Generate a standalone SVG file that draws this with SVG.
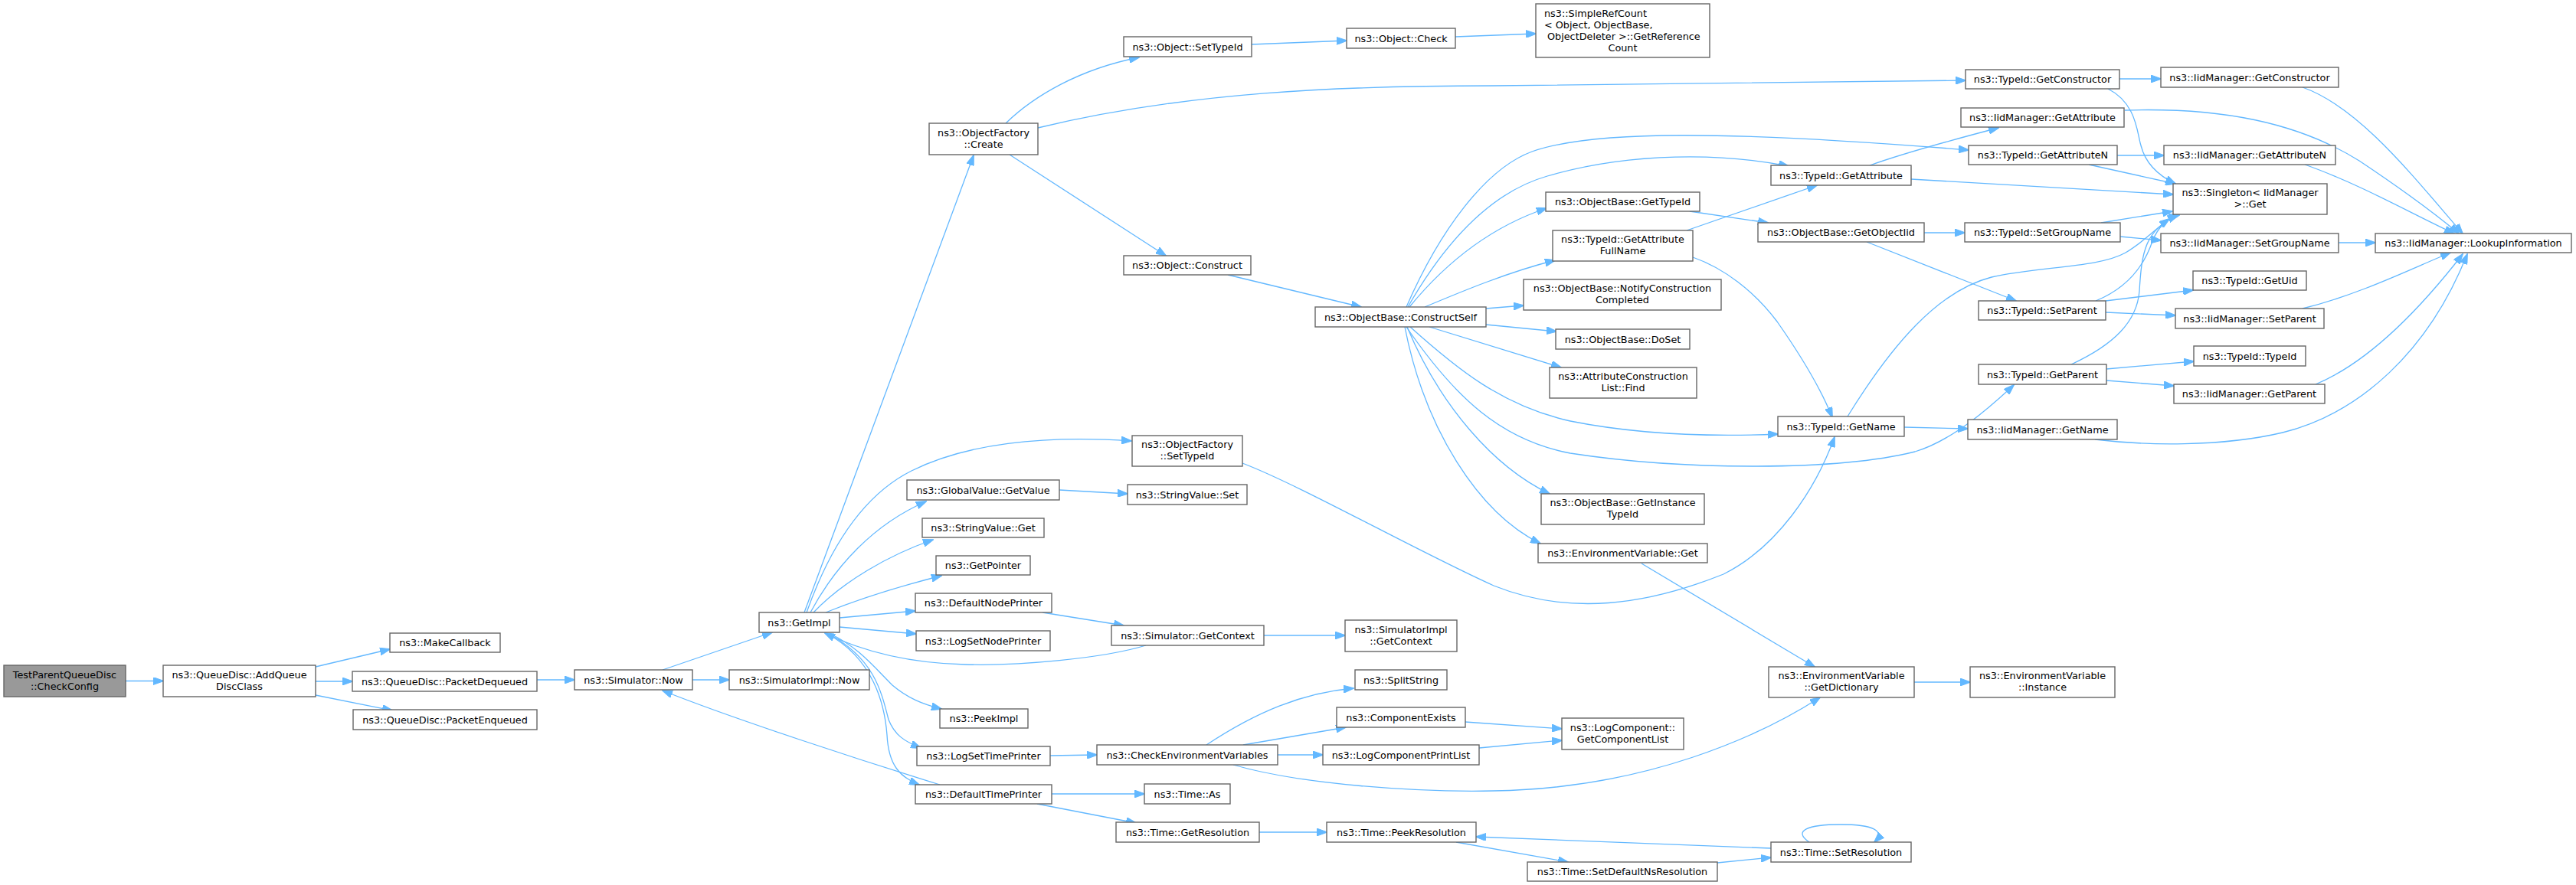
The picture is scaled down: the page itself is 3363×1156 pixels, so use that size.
<svg xmlns="http://www.w3.org/2000/svg" width="3363" height="1156" viewBox="0 0 3363 1156">
<style>
.n rect{fill:#ffffff;stroke:#666666;stroke-width:1.4}
.root rect{fill:#999999}
text{font-family:"DejaVu Sans","Liberation Sans",sans-serif;font-size:12.8px;fill:#000000;text-anchor:middle}
text.l{text-anchor:start}
.e path{fill:none;stroke:#63b8ff;stroke-width:1.3;marker-end:url(#a)}
</style>
<defs>
<marker id="a" markerUnits="userSpaceOnUse" markerWidth="14" markerHeight="10" refX="13" refY="5" orient="auto" viewBox="0 0 14 10">
<path d="M0,0 L14,5 L0,10 z" fill="#63b8ff" stroke="#63b8ff" stroke-width="1"/>
</marker>
</defs>
<rect x="0" y="0" width="3363" height="1156" fill="#ffffff"/>
<g id="edges" class="e">
<path d="M164,889.5 L213,889.5"/>
<path d="M412,871 L509,848"/>
<path d="M412,890 L460,890"/>
<path d="M412,908 L512,928"/>
<path d="M701,888 L750,888"/>
<path d="M904,888 L952,888"/>
<path d="M865,875 L1008,826"/>
<path d="M1227,1025 C1130,995 960,940 865,902"/>
<path d="M1050,800 L1271,203"/>
<path d="M1053,800 C1085,710 1130,645 1190,615 C1260,580 1360,568 1477,576"/>
<path d="M1058,800 C1090,740 1140,685 1209,655"/>
<path d="M1062,800 C1100,760 1160,725 1218,705"/>
<path d="M1078,800 C1120,783 1170,767 1229,752"/>
<path d="M1096,807 L1195,798"/>
<path d="M1096,819 L1196,828"/>
<path d="M1496,843 C1440,860 1330,870 1260,868 C1180,866 1120,848 1077,827"/>
<path d="M1084,828 C1120,845 1140,870 1165,895 C1185,912 1205,920 1229,926"/>
<path d="M1082,828 C1140,860 1150,900 1160,940 C1168,960 1180,968 1202,977"/>
<path d="M1080,828 C1140,860 1155,920 1158,960 C1160,1000 1175,1015 1200,1025"/>
<path d="M1313,161 C1350,125 1410,90 1487,75"/>
<path d="M1318,202 L1522,334"/>
<path d="M1355,167 C1550,120 1750,112 1950,112 C2200,111 2400,108 2566,105"/>
<path d="M1634,58 L1758,53"/>
<path d="M1900,48 L2005,44"/>
<path d="M1603,359 L1777,401"/>
<path d="M1836,401 C1880,300 1940,220 2000,198 C2080,170 2250,170 2570,196"/>
<path d="M1838,401 C1890,310 1950,250 2020,230 C2130,198 2250,200 2335,217"/>
<path d="M1840,401 C1890,340 1950,295 2019,272"/>
<path d="M1860,401 C1910,380 1970,355 2030,340"/>
<path d="M1940,403 L1989,399"/>
<path d="M1940,424 L2032,433"/>
<path d="M1866,427 L2038,480"/>
<path d="M1841,427 C1900,480 1960,530 2050,550 C2150,570 2250,570 2321,567"/>
<path d="M1836,427 C1900,520 1960,575 2050,592 C2200,615 2400,615 2500,590 C2550,575 2600,530 2629,503"/>
<path d="M1837,427 C1880,530 1950,610 2023,645"/>
<path d="M1834,427 C1860,560 1930,670 2011,710"/>
<path d="M1622,605 C1700,635 1850,720 1950,765 C2050,805 2150,790 2250,750 C2320,715 2370,640 2395,571"/>
<path d="M2202,301 L2372,242"/>
<path d="M2210,336 C2250,350 2290,380 2320,420 C2355,470 2380,515 2392,545"/>
<path d="M2206,276 L2308,291"/>
<path d="M2512,304 L2565,304"/>
<path d="M2437,316 L2632,393"/>
<path d="M2441,216 C2480,202 2540,185 2609,167"/>
<path d="M2495,234 L2837,254"/>
<path d="M2767,103 L2821,103"/>
<path d="M2752,116 C2790,135 2790,175 2795,190 C2800,210 2815,228 2840,240"/>
<path d="M2764,203 L2825,203"/>
<path d="M2727,215 L2840,240"/>
<path d="M2743,291 L2836,276"/>
<path d="M2768,309 L2821,314"/>
<path d="M2736,393 C2780,375 2800,345 2810,315 C2818,295 2830,285 2845,281"/>
<path d="M2749,393 L2863,379"/>
<path d="M2749,408 L2840,412"/>
<path d="M2704,476 C2760,450 2790,420 2793,380 C2796,330 2800,300 2843,281"/>
<path d="M2750,482 L2864,472"/>
<path d="M2750,497 L2838,504"/>
<path d="M2486,558 L2569,560"/>
<path d="M2412,544 C2470,450 2530,380 2600,362 C2660,348 2740,350 2775,330 C2800,315 2815,298 2832,286"/>
<path d="M3006,114 C3080,140 3150,230 3215,305"/>
<path d="M2774,144 C2900,140 3000,160 3080,210 C3140,250 3180,280 3210,305"/>
<path d="M3009,215 C3080,240 3150,280 3204,305"/>
<path d="M3053,317 L3101,317"/>
<path d="M3006,403 C3080,385 3150,350 3199,330"/>
<path d="M3023,502 C3100,470 3170,390 3215,332"/>
<path d="M2735,574 C2800,582 2900,584 2980,565 C3080,540 3170,460 3221,332"/>
<path d="M1383,640 L1472,645"/>
<path d="M1361,800 L1467,817"/>
<path d="M1650,830 L1756,830"/>
<path d="M1371,987 L1432,986"/>
<path d="M1575,973 C1640,930 1700,905 1767,899"/>
<path d="M1623,973 L1757,950"/>
<path d="M1668,986 L1727,986"/>
<path d="M1610,999 C1700,1025 1850,1035 1950,1033 C2150,1030 2300,960 2376,911"/>
<path d="M1913,943 L2039,952"/>
<path d="M1931,977 L2039,967"/>
<path d="M2143,736 L2369,871"/>
<path d="M2499,891 L2572,891"/>
<path d="M1373,1037 L1494,1037"/>
<path d="M1354,1050 L1483,1075"/>
<path d="M1644,1087 L1732,1087"/>
<path d="M1901,1100 L2047,1126"/>
<path d="M2242,1127 L2312,1120"/>
<path d="M2312,1108 L1927,1093"/>
<path d="M2362,1100 C2340,1085 2360,1077 2403,1077 C2445,1077 2462,1085 2447,1100"/>
</g>
<g id="n1" class="n root"><rect x="5" y="869" width="159" height="41"/><text x="84.5" y="885.5">TestParentQueueDisc</text><text x="84.5" y="900.5">::CheckConfig</text></g>
<g id="n2" class="n"><rect x="213" y="869" width="199" height="41"/><text x="312.5" y="885.5">ns3::QueueDisc::AddQueue</text><text x="312.5" y="900.5">DiscClass</text></g>
<g id="n3" class="n"><rect x="509" y="827" width="144" height="25"/><text x="581" y="844">ns3::MakeCallback</text></g>
<g id="n4" class="n"><rect x="460" y="877" width="241" height="26"/><text x="580.5" y="894.5">ns3::QueueDisc::PacketDequeued</text></g>
<g id="n5" class="n"><rect x="461" y="927" width="240" height="26"/><text x="581" y="944.5">ns3::QueueDisc::PacketEnqueued</text></g>
<g id="n6" class="n"><rect x="750" y="875" width="154" height="26"/><text x="827" y="892.5">ns3::Simulator::Now</text></g>
<g id="n7" class="n"><rect x="952" y="875" width="183" height="26"/><text x="1043.5" y="892.5">ns3::SimulatorImpl::Now</text></g>
<g id="n8" class="n"><rect x="991" y="800" width="105" height="26"/><text x="1043.5" y="817.5">ns3::GetImpl</text></g>
<g id="n9" class="n"><rect x="1213" y="161" width="142" height="41"/><text x="1284" y="177.5">ns3::ObjectFactory</text><text x="1284" y="192.5">::Create</text></g>
<g id="n10" class="n"><rect x="1467" y="48" width="167" height="26"/><text x="1550.5" y="65.5">ns3::Object::SetTypeId</text></g>
<g id="n11" class="n"><rect x="1758" y="37" width="142" height="26"/><text x="1829" y="54.5">ns3::Object::Check</text></g>
<g id="n12" class="n"><rect x="2005" y="5" width="227" height="70"/><text class="l" x="2016" y="21.5">ns3::SimpleRefCount</text><text class="l" x="2016" y="36.5">&lt; Object, ObjectBase,</text><text class="l" x="2020" y="51.5">ObjectDeleter &gt;::GetReference</text><text x="2118.5" y="66.5">Count</text></g>
<g id="n13" class="n"><rect x="2566" y="91" width="201" height="25"/><text x="2666.5" y="108">ns3::TypeId::GetConstructor</text></g>
<g id="n14" class="n"><rect x="2821" y="88" width="232" height="26"/><text x="2937" y="105.5">ns3::IidManager::GetConstructor</text></g>
<g id="n15" class="n"><rect x="1467" y="334" width="166" height="25"/><text x="1550" y="351">ns3::Object::Construct</text></g>
<g id="n16" class="n"><rect x="1717" y="401" width="223" height="26"/><text x="1828.5" y="418.5">ns3::ObjectBase::ConstructSelf</text></g>
<g id="n17" class="n"><rect x="2560" y="141" width="213" height="25"/><text x="2666.5" y="158">ns3::IidManager::GetAttribute</text></g>
<g id="n18" class="n"><rect x="2570" y="190" width="194" height="25"/><text x="2667" y="207">ns3::TypeId::GetAttributeN</text></g>
<g id="n19" class="n"><rect x="2825" y="190" width="224" height="25"/><text x="2937" y="207">ns3::IidManager::GetAttributeN</text></g>
<g id="n20" class="n"><rect x="2312" y="216" width="183" height="26"/><text x="2403.5" y="233.5">ns3::TypeId::GetAttribute</text></g>
<g id="n21" class="n"><rect x="2837" y="240" width="201" height="40"/><text x="2937.5" y="256">ns3::Singleton&lt; IidManager</text><text x="2937.5" y="271">&gt;::Get</text></g>
<g id="n22" class="n"><rect x="3101" y="305" width="256" height="25"/><text x="3229" y="322">ns3::IidManager::LookupInformation</text></g>
<g id="n23" class="n"><rect x="2018" y="251" width="201" height="25"/><text x="2118.5" y="268">ns3::ObjectBase::GetTypeId</text></g>
<g id="n24" class="n"><rect x="2295" y="291" width="217" height="25"/><text x="2403.5" y="308">ns3::ObjectBase::GetObjectIid</text></g>
<g id="n25" class="n"><rect x="2565" y="291" width="203" height="25"/><text x="2666.5" y="308">ns3::TypeId::SetGroupName</text></g>
<g id="n26" class="n"><rect x="2821" y="305" width="232" height="25"/><text x="2937" y="322">ns3::IidManager::SetGroupName</text></g>
<g id="n27" class="n"><rect x="2027" y="301" width="183" height="40"/><text x="2118.5" y="317">ns3::TypeId::GetAttribute</text><text x="2118.5" y="332">FullName</text></g>
<g id="n28" class="n"><rect x="1989" y="365" width="258" height="40"/><text x="2118" y="381">ns3::ObjectBase::NotifyConstruction</text><text x="2118" y="396">Completed</text></g>
<g id="n29" class="n"><rect x="2031" y="430" width="175" height="26"/><text x="2118.5" y="447.5">ns3::ObjectBase::DoSet</text></g>
<g id="n30" class="n"><rect x="2023" y="480" width="192" height="40"/><text x="2119" y="496">ns3::AttributeConstruction</text><text x="2119" y="511">List::Find</text></g>
<g id="n31" class="n"><rect x="2863" y="354" width="148" height="25"/><text x="2937" y="371">ns3::TypeId::GetUid</text></g>
<g id="n32" class="n"><rect x="2583" y="393" width="166" height="25"/><text x="2666" y="410">ns3::TypeId::SetParent</text></g>
<g id="n33" class="n"><rect x="2840" y="403" width="194" height="26"/><text x="2937" y="420.5">ns3::IidManager::SetParent</text></g>
<g id="n34" class="n"><rect x="2864" y="452" width="146" height="26"/><text x="2937" y="469.5">ns3::TypeId::TypeId</text></g>
<g id="n35" class="n"><rect x="2583" y="476" width="167" height="26"/><text x="2666.5" y="493.5">ns3::TypeId::GetParent</text></g>
<g id="n36" class="n"><rect x="2838" y="502" width="197" height="25"/><text x="2936.5" y="519">ns3::IidManager::GetParent</text></g>
<g id="n37" class="n"><rect x="2321" y="544" width="165" height="26"/><text x="2403.5" y="561.5">ns3::TypeId::GetName</text></g>
<g id="n38" class="n"><rect x="2569" y="548" width="195" height="26"/><text x="2666.5" y="565.5">ns3::IidManager::GetName</text></g>
<g id="n39" class="n"><rect x="1184" y="627" width="199" height="26"/><text x="1283.5" y="644.5">ns3::GlobalValue::GetValue</text></g>
<g id="n40" class="n"><rect x="1204" y="677" width="159" height="25"/><text x="1283.5" y="694">ns3::StringValue::Get</text></g>
<g id="n41" class="n"><rect x="1222" y="726" width="123" height="25"/><text x="1283.5" y="743">ns3::GetPointer</text></g>
<g id="n42" class="n"><rect x="1195" y="775" width="178" height="25"/><text x="1284" y="792">ns3::DefaultNodePrinter</text></g>
<g id="n43" class="n"><rect x="1196" y="824" width="175" height="26"/><text x="1283.5" y="841.5">ns3::LogSetNodePrinter</text></g>
<g id="n44" class="n"><rect x="1227" y="926" width="115" height="25"/><text x="1284.5" y="943">ns3::PeekImpl</text></g>
<g id="n45" class="n"><rect x="1197" y="975" width="174" height="25"/><text x="1284" y="992">ns3::LogSetTimePrinter</text></g>
<g id="n46" class="n"><rect x="1195" y="1025" width="178" height="25"/><text x="1284" y="1042">ns3::DefaultTimePrinter</text></g>
<g id="n47" class="n"><rect x="1478" y="569" width="144" height="40"/><text x="1550" y="585">ns3::ObjectFactory</text><text x="1550" y="600">::SetTypeId</text></g>
<g id="n48" class="n"><rect x="1472" y="633" width="156" height="26"/><text x="1550" y="650.5">ns3::StringValue::Set</text></g>
<g id="n49" class="n"><rect x="2012" y="645" width="213" height="40"/><text x="2118.5" y="661">ns3::ObjectBase::GetInstance</text><text x="2118.5" y="676">TypeId</text></g>
<g id="n50" class="n"><rect x="2008" y="710" width="221" height="25"/><text x="2118.5" y="727">ns3::EnvironmentVariable::Get</text></g>
<g id="n51" class="n"><rect x="1451" y="817" width="199" height="26"/><text x="1550.5" y="834.5">ns3::Simulator::GetContext</text></g>
<g id="n52" class="n"><rect x="1756" y="810" width="146" height="41"/><text x="1829" y="826.5">ns3::SimulatorImpl</text><text x="1829" y="841.5">::GetContext</text></g>
<g id="n53" class="n"><rect x="2309" y="871" width="190" height="40"/><text x="2404" y="887">ns3::EnvironmentVariable</text><text x="2404" y="902">::GetDictionary</text></g>
<g id="n54" class="n"><rect x="2572" y="871" width="189" height="40"/><text x="2666.5" y="887">ns3::EnvironmentVariable</text><text x="2666.5" y="902">::Instance</text></g>
<g id="n55" class="n"><rect x="1769" y="875" width="120" height="26"/><text x="1829" y="892.5">ns3::SplitString</text></g>
<g id="n56" class="n"><rect x="1745" y="924" width="168" height="26"/><text x="1829" y="941.5">ns3::ComponentExists</text></g>
<g id="n57" class="n"><rect x="2039" y="938" width="159" height="41"/><text x="2118.5" y="954.5">ns3::LogComponent::</text><text x="2118.5" y="969.5">GetComponentList</text></g>
<g id="n58" class="n"><rect x="1432" y="973" width="236" height="26"/><text x="1550" y="990.5">ns3::CheckEnvironmentVariables</text></g>
<g id="n59" class="n"><rect x="1727" y="973" width="204" height="26"/><text x="1829" y="990.5">ns3::LogComponentPrintList</text></g>
<g id="n60" class="n"><rect x="1494" y="1024" width="112" height="26"/><text x="1550" y="1041.5">ns3::Time::As</text></g>
<g id="n61" class="n"><rect x="1457" y="1074" width="187" height="26"/><text x="1550.5" y="1091.5">ns3::Time::GetResolution</text></g>
<g id="n62" class="n"><rect x="1732" y="1074" width="195" height="26"/><text x="1829.5" y="1091.5">ns3::Time::PeekResolution</text></g>
<g id="n63" class="n"><rect x="1994" y="1126" width="248" height="25"/><text x="2118" y="1143">ns3::Time::SetDefaultNsResolution</text></g>
<g id="n64" class="n"><rect x="2312" y="1100" width="183" height="26"/><text x="2403.5" y="1117.5">ns3::Time::SetResolution</text></g>
</svg>
